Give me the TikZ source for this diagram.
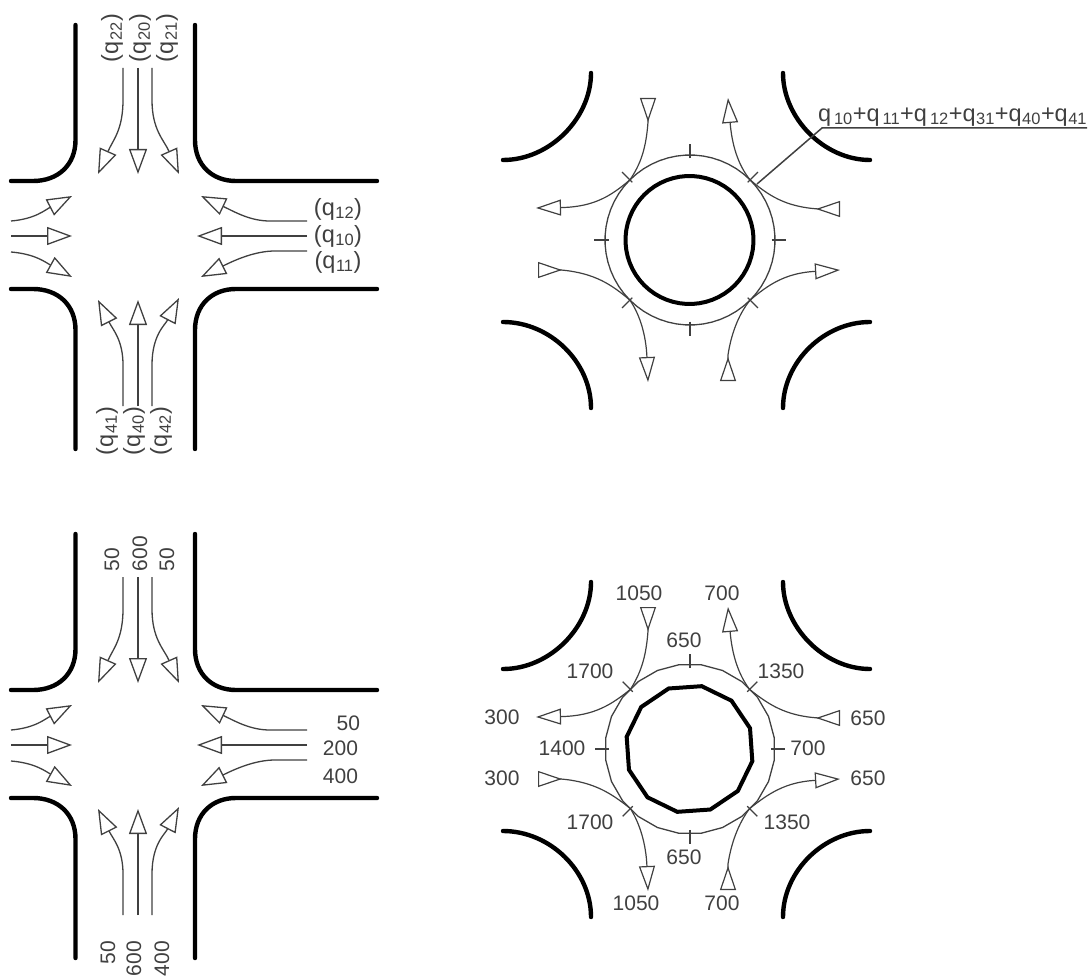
\documentclass[tikz,border=0pt]{standalone}
\usepackage{fontspec}
\setmainfont{Liberation Sans}
\usetikzlibrary{arrows.meta,calc,shapes.geometric}
\definecolor{inkgray}{gray}{0.25}
\newcommand{\qsp}[1]{q\kern3pt\textsubscript{#1}}
\newcommand{\qnr}[1]{q\kern0.5pt\textsubscript{#1}}

\begin{document}
\begin{tikzpicture}[
  x=1pt,y=-1pt,
  every node/.style={font=\fontsize{21}{21}\selectfont,text=inkgray,inner sep=0pt,outer sep=0pt},
  qlabel/.style={font=\fontsize{23.5}{23.5}\selectfont},
  road/.style={line width=4.4pt,line cap=round},
  lane/.style={draw=inkgray,line width=1.3pt,-{Triangle[open,length=25pt,width=18pt,line width=1.3pt]}},
  feeder/.style={draw=inkgray,line width=1.2pt,{Triangle[open,reversed,length=24pt,width=16pt,line width=1.2pt]}-},
  leaver/.style={draw=inkgray,line width=1.2pt,-{Triangle[open,length=25pt,width=16pt,line width=1.2pt]}},
  tick/.style={draw=inkgray,line width=1.2pt},
  island/.style={draw,regular polygon,line width=4pt,minimum size=128pt},
  ringroad/.style={draw=inkgray,regular polygon,line width=1.3pt,minimum size=170pt}
]
  \useasboundingbox (0,0) rectangle (1089,976);

  % crossings on the left
  \foreach \oy in {0,509} {
    \begin{scope}[shift={(0,\oy)}]
      \draw[road] (75.5,25) -- (75.5,140) .. controls (75.5,165) and (58,181) .. (33,181) -- (11,181);
      \draw[road] (195,25) -- (195,140) .. controls (195,165) and (212,181) .. (236,181) -- (377,181);
      \draw[road] (11,289) -- (33,289) .. controls (58,289) and (75.5,305) .. (75.5,330) -- (75.5,449);
      \draw[road] (377,289) -- (236,289) .. controls (212,289) and (195,305) .. (195,330) -- (195,449);

      \draw[lane] (123,68) -- (123,100) .. controls (123,130) and (113,140) .. (98,174);
      \draw[lane] (138,68) -- (138,174);
      \draw[lane] (152,68) -- (152,100) .. controls (152,130) and (164,140) .. (179,174);
      \draw[lane] (123,406) -- (123,365) .. controls (123,340) and (113,330) .. (98,300);
      \draw[lane] (138,406) -- (138,300);
      \draw[lane] (152,406) -- (152,365) .. controls (152,335) and (165,325) .. (179,298);

      \draw[lane] (307,221) -- (270,221) .. controls (250,221) and (235,212) .. (201,196);
      \draw[lane] (307,236) -- (197,236);
      \draw[lane] (307,251) -- (275,251) .. controls (255,251) and (235,260) .. (201,277);
      \draw[lane] (11,221) .. controls (35,219) and (45,210) .. (72,196);
      \draw[lane] (11,236) -- (72,236);
      \draw[lane] (11,252) .. controls (35,254) and (45,262) .. (72,277);
    \end{scope}
  }

  % roundabouts on the right
  \foreach \oy/\nin/\nout/\tw in {0/60/60/0,509/12/24/4} {
    \begin{scope}[shift={(0,\oy)}]
      \draw[road] (591,73) .. controls (591,118) and (550,160) .. (503,160);
      \draw[road] (783,73) .. controls (783,118) and (824,160) .. (870,160);
      \draw[road] (503,322) .. controls (550,322) and (591,362) .. (591,408);
      \draw[road] (870,322) .. controls (824,322) and (783,362) .. (783,408);

      \node[island,regular polygon sides=\nin,shape border rotate=\tw] (hub) at (689.5,240) {};
      \node[ringroad,regular polygon sides=\nout] (ring) at (690,240) {};

      \foreach \a in {0,45,...,315}
        \draw[tick] ($(ring.center)!0.96!(ring.\a)$) -- ($(ring.center)!1.13!(ring.\a)$);

      \draw[feeder] (648,98) -- (648,122) .. controls (646,150) and (640,165) .. (ring.135);
      \draw[leaver] (ring.45) .. controls (738,165) and (732,145) .. (728,98);
      \draw[leaver] (ring.135) .. controls (612,195) and (595,207) .. (536,208);
      \draw[feeder] (840,209) -- (819,209) .. controls (785,207) and (768,195) .. (ring.45);
      \draw[feeder] (538,270) -- (561,270) .. controls (595,273) and (612,285) .. (ring.225);
      \draw[leaver] (ring.315) .. controls (768,285) and (785,273) .. (840,270);
      \draw[leaver] (ring.225) .. controls (640,315) and (646,335) .. (648,382);
      \draw[feeder] (728,381) -- (728,355) .. controls (731,335) and (738,315) .. (ring.315);
    \end{scope}
  }

  % q labels
  \node[qlabel,rotate=90] (q22) at (112,38) {(\qnr{22})};
  \node[qlabel,rotate=90] (q20) at (140,38) {(\qnr{20})};
  \node[qlabel,rotate=90] (q21) at (167,38) {(\qnr{21})};
  \node[qlabel,rotate=90] (q41) at (107,431) {(\qnr{41})};
  \node[qlabel,rotate=90] (q40) at (134,431) {(\qnr{40})};
  \node[qlabel,rotate=90] (q42) at (161,431) {(\qnr{42})};
  \node[qlabel] (q12) at (338,209) {(\qnr{12})};
  \node[qlabel] (q10) at (338,236) {(\qnr{10})};
  \node[qlabel] (q11) at (338,262) {(\qnr{11})};

  \node[qlabel,anchor=south west] (qsum) at (818,126) {\qsp{10}+\qsp{11}+\qsp{12}+\qnr{31}+\qnr{40}+\qnr{41}};
  \coordinate (qfoot) at (757,184);
  \draw[tick,line width=1.5pt] (1087,128) -- (822,128) -- (qfoot);

  % volumes, crossing
  \node[rotate=90,anchor=west] (s50a) at (112,571) {50};
  \node[rotate=90,anchor=west] (s600) at (140,571) {600};
  \node[rotate=90,anchor=west] (s50b) at (167,571) {50};
  \node[rotate=90,anchor=east] (n50) at (108,941) {50};
  \node[rotate=90,anchor=east] (n600) at (134,941) {600};
  \node[rotate=90,anchor=east] (n400) at (162,941) {400};
  \node[anchor=east] (w50) at (360,723) {50};
  \node[anchor=east] (w200) at (358,748) {200};
  \node[anchor=east] (w400) at (358,776) {400};

  % volumes, roundabout
  \node (a1050) at (639,593) {1050};
  \node (a700)  at (722,593) {700};
  \node (a650)  at (684,640) {650};
  \node (b1700) at (590,671) {1700};
  \node (b1350) at (781,671) {1350};
  \node (c300)  at (502,717) {300};
  \node (c650)  at (868,718) {650};
  \node (d1400) at (562,748) {1400};
  \node (d700)  at (808,748) {700};
  \node (e300)  at (502,778) {300};
  \node (e650)  at (868,778) {650};
  \node (f1700) at (590,822) {1700};
  \node (f1350) at (787,822) {1350};
  \node (g650)  at (684,857) {650};
  \node (h1050) at (636,903) {1050};
  \node (h700)  at (722,903) {700};
\end{tikzpicture}
\end{document}
